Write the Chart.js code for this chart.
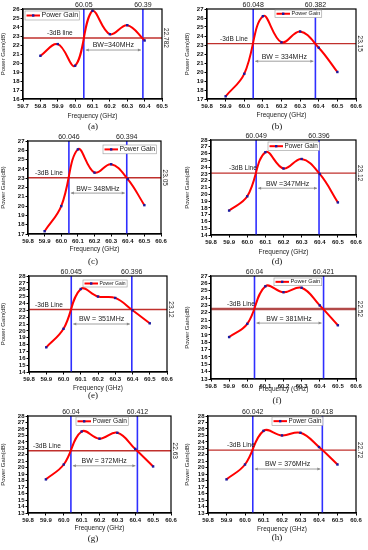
<!DOCTYPE html>
<html>
<head>
<meta charset="utf-8">
<script src="https://cdn.jsdelivr.net/npm/chart.js@4"></script>
<style>
  body { margin: 0; background: #fff; width: 368px; height: 550px; position: relative; overflow: hidden; }
  canvas { position: absolute; }
</style>
</head>
<body>
<script>
// --- data ---
const freqA = [59.8, 59.9, 60.0, 60.1, 60.2, 60.3, 60.4];
const freqRest = [59.9, 60.0, 60.1, 60.2, 60.3, 60.4, 60.5];
const gainA = [20.8, 22.1, 19.7, 25.8, 23.2, 24.2, 22.5];
const gainB = [17.3, 19.8, 26.2, 23.3, 24.5, 22.7, 20.0];
const gainC = [17.3, 20.0, 26.1, 23.6, 24.5, 22.9, 20.1];
const gainD = [17.6, 19.7, 26.2, 23.8, 25.2, 23.0, 18.8];
const gainE = [17.6, 20.3, 26.1, 25.0, 24.8, 23.0, 21.1];
const gainF = [18.7, 20.5, 25.6, 24.8, 25.4, 23.0, 20.3];
const gainG = [18.2, 20.5, 25.6, 24.5, 25.4, 22.9, 20.2];
const gainH = [18.2, 20.5, 25.7, 25.0, 25.4, 23.2, 20.5];
const bwEdges = [[60.05, 60.39], [60.048, 60.382], [60.046, 60.394], [60.049, 60.396],
                 [60.045, 60.396], [60.04, 60.421], [60.04, 60.412], [60.042, 60.418]];
const edgeLabels = [["60.05", "60.39"], ["60.048", "60.382"], ["60.046", "60.394"], ["60.049", "60.396"],
                    ["60.045", "60.396"], ["60.04", "60.421"], ["60.04", "60.412"], ["60.042", "60.418"]];
const cutoffLevels = [22.782, 23.15, 23.05, 23.12, 23.12, 22.52, 22.63, 22.72];
const cutoffLabels = ["22.782", "23.15", "23.05", "23.12", "23.12", "22.52", "22.63", "22.72"];
const bwLabels = ["BW=340MHz", "BW = 334MHz", "BW= 348MHz", "BW =347MHz",
                  "BW = 351MHz", "BW = 381MHz", "BW = 372MHz", "BW = 376MHz"];
const lineLabels = ["-3dB line", "-3dB Line", "-3dB Line", "-3dB Line", "-3dB Line", "-3dB Line", "-3dB Line", "-3dB Line"];
const captions = ["(a)", "(b)", "(c)", "(d)", "(e)", "(f)", "(g)", "(h)"];
const yRanges = [[16, 26], [17, 27], [17, 27], [14, 28], [14, 28], [13, 27], [13, 28], [13, 28]];
const xRanges = [[59.7, 60.5], [59.8, 60.6], [59.8, 60.6], [59.8, 60.6], [59.8, 60.6], [59.8, 60.6], [59.8, 60.6], [59.8, 60.6]];

const freqs = [freqA, freqRest, freqRest, freqRest, freqRest, freqRest, freqRest, freqRest];
const gains = [gainA, gainB, gainC, gainD, gainE, gainF, gainG, gainH];

// --- layout of each panel (row position + plot box in row-local px) ---
const panels = [
  { left: 0,   top: 0,   area: [23, 9, 162, 99],  titleY: 116, capY: 127, legend: [25, 11, 7],   dbX: 24, arrowY: 21.44 },
  { left: 184, top: 0,   area: [23, 9, 172, 99],  titleY: 115, capY: 127, legend: [91, 10, 5.5], dbX: 13, arrowY: 21.2 },
  { left: 0,   top: 135, area: [28, 6, 161, 99],  titleY: 114, capY: 127, legend: [103, 10, 6.8], dbX: 7, arrowY: 21.4 },
  { left: 184, top: 135, area: [27, 5, 172, 100], titleY: 117, capY: 127, legend: [84, 7, 6.4],  dbX: 18, arrowY: 20.9 },
  { left: 0,   top: 270, area: [29, 6, 167, 102], titleY: 118, capY: 126, legend: [83, 10, 5],   dbX: 6, arrowY: 21.0 },
  { left: 184, top: 270, area: [27, 6, 172, 109], titleY: 119, capY: 131, legend: [90, 8, 5.7],  dbX: 16, arrowY: 20.6 },
  { left: 0,   top: 410, area: [28, 6, 171, 103], titleY: 118, capY: 129, legend: [76, 7, 6.6],  dbX: 5, arrowY: 20.3 },
  { left: 184, top: 410, area: [24, 6, 172, 103], titleY: 119, capY: 128, legend: [88, 7, 6.3],  dbX: 19, arrowY: 19.8 },
];

const W = 184;
const SANS = "'Liberation Sans', Arial, sans-serif";
const BLUE = "#2f2fff";
const RED_LINE = "#c0302c";

// labels, legend, frame and BW arrow drawn on top of the datasets
const overlay = {
  id: "overlay",
  afterDraw(chart, args, o) {
    const { ctx, chartArea: a, scales: { x, y } } = chart;
    ctx.save();
    ctx.strokeStyle = "#000";
    ctx.lineWidth = 1.2;
    ctx.strokeRect(a.left, a.top, a.right - a.left, a.bottom - a.top);

    ctx.fillStyle = "#222";
    // edge labels above the plot
    ctx.font = "7px " + SANS;
    ctx.textAlign = "center";
    ctx.textBaseline = "bottom";
    o.edges.forEach((v, k) => ctx.fillText(o.edgeText[k], x.getPixelForValue(v), a.top - 0.5));

    // -3dB line text
    const ly = y.getPixelForValue(o.level);
    ctx.font = "6.5px " + SANS;
    ctx.textAlign = "left";
    ctx.fillText(o.lineText, a.left + o.dbX, ly - 1.5);

    // rotated level on the right
    ctx.save();
    ctx.translate(a.right + 4, ly);
    ctx.rotate(Math.PI / 2);
    ctx.textAlign = "center";
    ctx.textBaseline = "middle";
    ctx.font = "6.5px " + SANS;
    ctx.fillText(o.levelText, 0, 0);
    ctx.restore();

    // BW arrow
    const x1 = x.getPixelForValue(o.edges[0]) + 2;
    const x2 = x.getPixelForValue(o.edges[1]) - 2;
    const ay = y.getPixelForValue(o.arrowY);
    ctx.strokeStyle = "#888";
    ctx.fillStyle = "#888";
    ctx.lineWidth = 0.8;
    ctx.beginPath();
    ctx.moveTo(x1, ay);
    ctx.lineTo(x2, ay);
    ctx.stroke();
    [[x1, 1], [x2, -1]].forEach(([px, d]) => {
      ctx.beginPath();
      ctx.moveTo(px, ay);
      ctx.lineTo(px + 3 * d, ay - 1.5);
      ctx.lineTo(px + 3 * d, ay + 1.5);
      ctx.closePath();
      ctx.fill();
    });
    ctx.fillStyle = "#222";
    ctx.font = "7px " + SANS;
    ctx.textAlign = "center";
    ctx.textBaseline = "bottom";
    ctx.fillText(o.bwText, (x1 + x2) / 2, ay - 1);

    // legend box
    const [lx, lyTop, fs] = o.legend;
    ctx.font = fs + "px " + SANS;
    const tw = ctx.measureText("Power Gain").width;
    const bh = fs + 2;
    ctx.fillStyle = "#fff";
    ctx.fillRect(lx, lyTop, 18 + tw, bh);
    ctx.strokeStyle = "#999";
    ctx.lineWidth = 0.6;
    ctx.strokeRect(lx, lyTop, 18 + tw, bh);
    const my = lyTop + bh / 2;
    ctx.strokeStyle = "#ff0000";
    ctx.lineWidth = 2;
    ctx.beginPath();
    ctx.moveTo(lx + 1.5, my);
    ctx.lineTo(lx + 15, my);
    ctx.stroke();
    ctx.fillStyle = "#1a1aa0";
    ctx.fillRect(lx + 7, my - 1.2, 2.4, 2.4);
    ctx.fillStyle = "#222";
    ctx.textAlign = "left";
    ctx.textBaseline = "middle";
    ctx.fillText("Power Gain", lx + 16.5, my);

    // caption
    ctx.font = "9px 'Liberation Serif', serif";
    ctx.textAlign = "center";
    ctx.textBaseline = "middle";
    ctx.fillStyle = "#111";
    ctx.fillText(o.caption, o.capX, o.capY);
    ctx.restore();
  },
};

panels.forEach((p, i) => {
  // rows below the first get a few extra px on top so the edge labels are not clipped
  const pad = p.top > 0 ? 6 : 0;
  const H = 140 + pad;
  const canvas = document.createElement("canvas");
  canvas.width = W;
  canvas.height = H;
  canvas.style.left = p.left + "px";
  canvas.style.top = (p.top - pad) + "px";
  document.body.appendChild(canvas);

  const [aL, aT, aR, aB] = p.area;
  const [xMin, xMax] = xRanges[i];
  const [yMin, yMax] = yRanges[i];
  const level = cutoffLevels[i];

  new Chart(canvas.getContext("2d"), {
    type: "line",
    data: {
      datasets: [
        {
          data: freqs[i].map((f, k) => ({ x: f, y: gains[i][k] })),
          borderColor: "#ff0000",
          borderWidth: 2,
          tension: 0.4,
          pointStyle: "rect",
          pointRadius: 1.7,
          pointBackgroundColor: "#1a1aa0",
          pointBorderWidth: 0,
        },
        {
          data: [{ x: bwEdges[i][0], y: yMin }, { x: bwEdges[i][0], y: yMax }],
          borderColor: BLUE, borderWidth: 1.6, pointRadius: 0,
        },
        {
          data: [{ x: bwEdges[i][1], y: yMin }, { x: bwEdges[i][1], y: yMax }],
          borderColor: BLUE, borderWidth: 1.6, pointRadius: 0,
        },
        {
          data: [{ x: xMin, y: level }, { x: xMax, y: level }],
          borderColor: i === 5 ? "#b24a48" : RED_LINE,
          borderWidth: i === 5 ? 2.6 : 1.4,
          pointRadius: 0,
        },
      ],
    },
    options: {
      responsive: false,
      devicePixelRatio: 1,
      animation: false,
      events: [],
      layout: { padding: { left: 0, top: aT + pad, right: W - aR, bottom: 140 - p.titleY - 4 } },
      plugins: {
        legend: { display: false },
        tooltip: { enabled: false },
        overlay: {
          edges: bwEdges[i],
          edgeText: edgeLabels[i],
          level: level,
          levelText: cutoffLabels[i],
          lineText: lineLabels[i],
          bwText: bwLabels[i],
          arrowY: p.arrowY,
          dbX: p.dbX,
          legend: [p.legend[0], p.legend[1] + pad, p.legend[2]],
          caption: captions[i],
          capX: 93,
          capY: p.capY + pad,
        },
      },
      scales: {
        x: {
          type: "linear",
          min: xMin,
          max: xMax,
          afterFit: (s) => { s.height = p.titleY + 4 - aB; },
          ticks: {
            stepSize: 0.1,
            autoSkip: false,
            maxRotation: 0,
            padding: 1,
            color: "#111",
            font: { size: 6, weight: "bold", family: SANS },
            callback: (v) => Number(v).toFixed(1),
          },
          grid: { drawOnChartArea: false, tickLength: 2.5, color: "#000" },
          border: { color: "#000", width: 1.2 },
          title: {
            display: true,
            text: "Frequency (GHz)",
            padding: 0,
            color: "#222",
            font: { size: 6.5, family: SANS },
          },
        },
        y: {
          min: yMin,
          max: yMax,
          afterFit: (s) => { s.width = aL; },
          ticks: {
            stepSize: 1,
            autoSkip: false,
            padding: 1,
            color: "#111",
            font: { size: 6, weight: "bold", family: SANS },
          },
          grid: { drawOnChartArea: false, tickLength: 2.5, color: "#000" },
          border: { color: "#000", width: 1.2 },
          title: {
            display: true,
            text: "Power Gain(dB)",
            padding: 0,
            color: "#222",
            font: { size: 6, family: SANS },
          },
        },
      },
    },
    plugins: [overlay],
  });
});
</script>
</body>
</html>
